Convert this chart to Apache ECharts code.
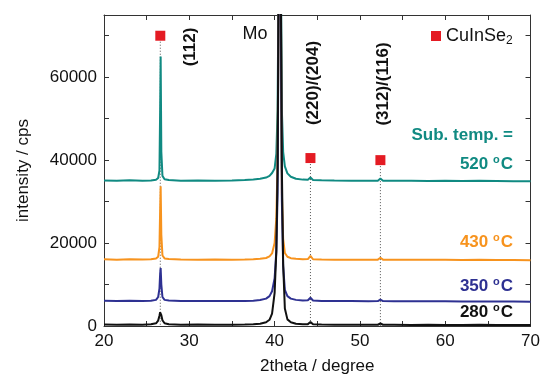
<!DOCTYPE html>
<html>
<head>
<meta charset="utf-8">
<script src="https://cdn.jsdelivr.net/npm/echarts@6/dist/echarts.min.js"></script>
<style>
  html, body { margin: 0; padding: 0; background: #fff; }
  #chart { width: 543px; height: 382px; }
</style>
</head>
<body>
<div id="chart"></div>
<script>
// 2theta grid shared by all four scans
const twoTheta = [20, 21.5, 23, 24.5, 25.5, 26.1, 26.35, 26.5, 26.58, 26.64, 26.72, 26.85, 27.1, 27.6, 29, 31, 33, 35, 36.5, 37.5,
  38.3, 39, 39.4, 39.7, 40.0, 40.2, 40.35, 40.5, 40.6, 40.7, 40.85, 41.0, 41.2, 41.5, 41.9, 42.5, 43.3, 43.9, 44.1, 44.2,
  44.3, 44.5, 45.5, 47, 49, 51, 52.1, 52.3, 52.4, 52.5, 52.7, 54, 56, 58, 60, 62, 64, 66, 68, 70];

// intensities (cps, already offset as plotted)
const i520 = [35100, 35000, 35150, 35050, 35100, 35250, 35700, 37500, 52000, 65000, 42000, 36200, 35400, 35200, 35050, 35100, 35000, 35100, 35200, 35350,
  35500, 35800, 36200, 36900, 38000, 41500, 52000, 95000, 150000, 95000, 52000, 42000, 38500, 36800, 36000, 35500, 35300, 35250, 35600, 35800,
  35550, 35200, 35150, 35100, 35050, 35000, 35050, 35400, 35550, 35350, 35050, 35000, 35050, 34950, 35000, 34950, 35000, 34950, 34900, 34900];
const i430 = [16100, 16000, 16100, 16050, 16100, 16250, 16700, 19000, 28000, 33700, 22000, 17000, 16300, 16150, 16050, 16000, 16050, 16000, 16050, 16100,
  16200, 16400, 16800, 17500, 20000, 26000, 40000, 90000, 150000, 90000, 32000, 21000, 17600, 16700, 16350, 16200, 16100, 16150, 16600, 16900,
  16500, 16100, 16050, 16000, 16000, 15950, 16000, 16300, 16450, 16250, 16000, 15950, 16000, 15950, 15950, 15900, 15950, 15900, 15900, 15850];
const i350 = [6100, 6050, 6100, 6050, 6100, 6300, 7000, 9000, 12500, 14000, 10000, 7000, 6300, 6150, 6050, 6000, 6050, 6000, 6050, 6100,
  6250, 6600, 7200, 8400, 11500, 18000, 32000, 90000, 150000, 90000, 30000, 14500, 8700, 7200, 6600, 6300, 6150, 6200, 6600, 6800,
  6500, 6150, 6050, 6000, 6000, 5950, 6000, 6250, 6350, 6200, 6000, 5950, 5950, 5950, 5950, 5900, 5900, 5900, 5900, 5850];
const i280 = [350, 300, 350, 300, 400, 650, 1300, 2500, 3300, 3300, 2600, 1400, 650, 400, 300, 350, 300, 300, 350, 400,
  550, 900, 1500, 3000, 8000, 18000, 38000, 95000, 150000, 95000, 38000, 15000, 4200, 1600, 900, 550, 400, 450, 800, 950,
  750, 400, 350, 300, 300, 300, 300, 500, 600, 450, 300, 300, 250, 300, 250, 250, 300, 250, 250, 250];

// CuInSe2 reflections and where their markers sit
const cisPeaks = [26.6, 44.2, 52.4];
const cisMarkerY = [70000, 40500, 40000];
const hklLabels = ['(112)', '(220)/(204)', '(312)/(116)'];

const scans = [
  { name: '520', values: i520, color: '#108a82' },
  { name: '430', values: i430, color: '#f7931e' },
  { name: '350', values: i350, color: '#2e3192' },
  { name: '280', values: i280, color: '#111111' },
];

const FONT = "'Liberation Sans', Arial, sans-serif";
const AX = '#333';
const RED = '#e41b23';

function frameAxis(extra) {
  return Object.assign({
    type: 'value',
    axisLine: { show: true, onZero: false, lineStyle: { color: AX, width: 1 } },
    axisTick: { show: true, inside: true, length: 5, lineStyle: { color: AX } },
    splitLine: { show: false },
  }, extra);
}

const chart = echarts.init(document.getElementById('chart'), null, { renderer: 'canvas' });

const series = [];
// dotted guide lines from each marker down to the axis
cisPeaks.forEach((x, i) => {
  series.push({
    type: 'line', silent: true, symbol: 'none', z: 1,
    data: [[x, cisMarkerY[i]], [x, 0]],
    lineStyle: { color: '#555', width: 1, type: [1, 2] },
  });
});
scans.forEach((s) => {
  series.push({
    type: 'line', name: s.name, symbol: 'none', z: 2,
    data: twoTheta.map((x, i) => [x, s.values[i]]),
    lineStyle: { color: s.color, width: 2 },
    clip: true,
  });
});
series.push({
  type: 'scatter', name: 'CuInSe2', symbol: 'rect', symbolSize: 10, z: 5,
  itemStyle: { color: RED, opacity: 1 },
  data: cisPeaks.map((x, i) => [x, cisMarkerY[i]]),
});

const bold = { fontFamily: FONT, fontSize: 17, fontWeight: 'bold', fill: '#111' };

function tempText(label, y, color) {
  return {
    type: 'text', right: 30, top: y,
    style: {
      text: '{n|' + label + ' }{s|o}{n|C}', fill: color,
      rich: {
        n: { fontSize: 17, fontWeight: 'bold', fill: color, fontFamily: FONT, lineHeight: 22 },
        s: { fontSize: 11, fontWeight: 'bold', fill: color, fontFamily: FONT, lineHeight: 22, padding: [0, 1, 10, 0] },
      },
    },
  };
}

chart.setOption({
  animation: false,
  backgroundColor: '#fff',
  grid: { left: 104, right: 12, top: 15, bottom: 56 },
  legend: {
    data: [{ name: 'CuInSe2', icon: 'rect', itemStyle: { color: RED, opacity: 1 } }],
    left: 426, top: 22, itemWidth: 10, itemHeight: 10, itemGap: 4,
    formatter: () => '{a|CuInSe}{b|2}',
    textStyle: {
      rich: {
        a: { fontFamily: FONT, fontSize: 18, color: '#111' },
        b: { fontFamily: FONT, fontSize: 12, color: '#111', verticalAlign: 'bottom', padding: [9, 0, 0, 0] },
      },
    },
  },
  xAxis: [
    frameAxis({
      min: 20, max: 70, interval: 5,
      name: '2theta / degree', nameLocation: 'middle', nameGap: 32,
      nameTextStyle: { fontFamily: FONT, fontSize: 17, color: '#111' },
      axisLabel: { fontFamily: FONT, fontSize: 17, color: '#111', margin: 7,
        formatter: (v) => (v % 10 === 0 ? String(v) : '') },
    }),
    frameAxis({ position: 'top', min: 20, max: 70, interval: 5, axisLabel: { show: false } }),
  ],
  yAxis: [
    frameAxis({
      min: 0, max: 75000, interval: 10000,
      name: 'intensity / cps', nameLocation: 'middle', nameGap: 72,
      nameTextStyle: { fontFamily: FONT, fontSize: 17, color: '#111' },
      axisLabel: { fontFamily: FONT, fontSize: 17, color: '#111', margin: 7, showMaxLabel: false,
        formatter: (v) => (v % 20000 === 0 ? String(v) : '') },
    }),
    frameAxis({ position: 'right', min: 0, max: 75000, interval: 10000, axisLabel: { show: false } }),
  ],
  series: series,
  graphic: [
    { type: 'text', x: 190, y: 47, rotation: Math.PI / 2,
      style: Object.assign({ text: hklLabels[0], align: 'center', verticalAlign: 'middle' }, bold) },
    { type: 'text', x: 313, y: 83, rotation: Math.PI / 2,
      style: Object.assign({ text: hklLabels[1], align: 'center', verticalAlign: 'middle' }, bold) },
    { type: 'text', x: 383, y: 84, rotation: Math.PI / 2,
      style: Object.assign({ text: hklLabels[2], align: 'center', verticalAlign: 'middle' }, bold) },
    { type: 'text', x: 255, y: 34,
      style: { text: 'Mo', align: 'center', verticalAlign: 'middle', font: '18px ' + FONT, fill: '#111' } },
    { type: 'text', right: 30, top: 127,
      style: { text: 'Sub. temp. =', font: 'bold 17px ' + FONT, fill: scans[0].color } },
    tempText('520', 154, scans[0].color),
    tempText('430', 232, scans[1].color),
    tempText('350', 276, scans[2].color),
    tempText('280', 302, scans[3].color),
  ],
});
</script>
</body>
</html>
